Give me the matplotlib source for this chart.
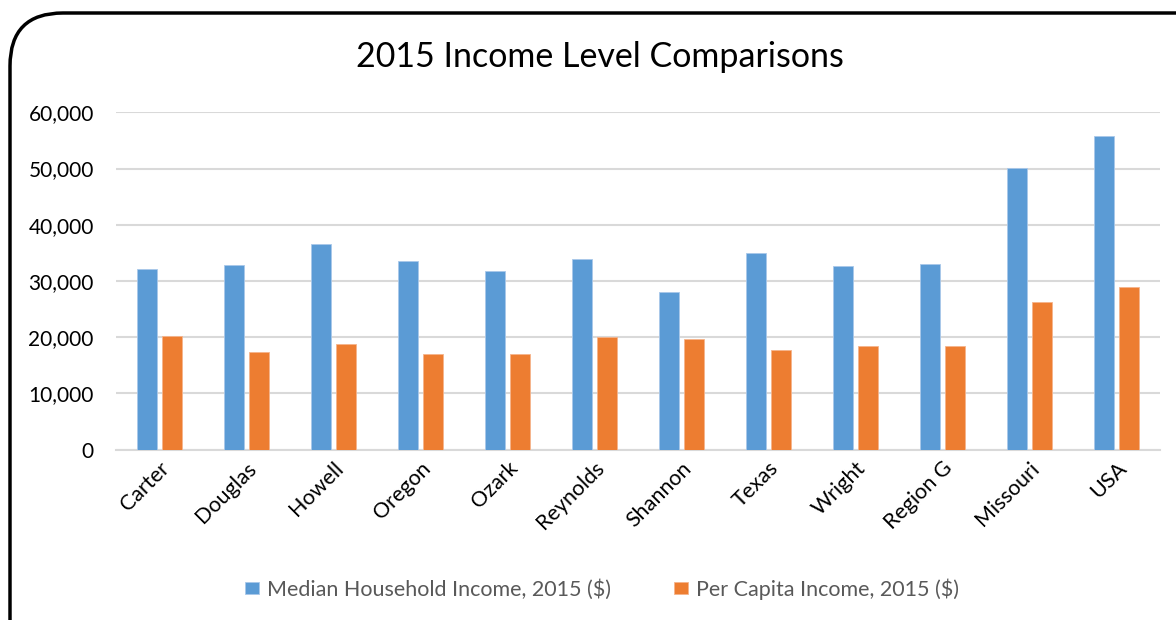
import numpy as np
import matplotlib.pyplot as plt
from matplotlib.patches import FancyBboxPatch

counties = ["Carter", "Douglas", "Howell", "Oregon", "Ozark", "Reynolds",
            "Shannon", "Texas", "Wright", "Region G", "Missouri", "USA"]
median_household = [32200, 32900, 36600, 33500, 31800, 34000,
                    28100, 34900, 32600, 33000, 50100, 55700]
per_capita = [20200, 17300, 18800, 17100, 17000, 20100,
              19600, 17800, 18500, 18500, 26200, 28900]
y_ticks = [0, 10000, 20000, 30000, 40000, 50000, 60000]

blue = "#5b9bd5"
orange = "#ed7d31"
plt.rcParams["font.family"] = ["Lato", "DejaVu Sans"]

fig = plt.figure(figsize=(11.76, 6.2), dpi=100)

# rounded chart frame, cut off at right and bottom like the source image
frame = FancyBboxPatch((10 / 1176, -0.1), 1.2, 1.1 - 13 / 620,
                       boxstyle="round,pad=0,rounding_size=0.045",
                       transform=fig.transFigure, fill=False,
                       edgecolor="black", linewidth=2.5, mutation_aspect=1176 / 620)
fig.patches.append(frame)

ax = fig.add_axes([116 / 1176, 1 - 449.7 / 620, 1044 / 1176, (449.7 - 112.3) / 620])
x = np.arange(len(counties))
w = 0.226
off = 0.146
ax.bar(x - off, median_household, w, color=blue, edgecolor="#a9c8ea", linewidth=0.6,
       label="Median Household Income, 2015 ($)", zorder=3)
ax.bar(x + off, per_capita, w, color=orange, edgecolor="#f6b48c", linewidth=0.6,
       label="Per Capita Income, 2015 ($)", zorder=3)

ax.set_xlim(-0.5, len(counties) - 0.5)
ax.set_ylim(0, 60000)
ax.set_yticks(y_ticks)
ax.set_yticklabels([f"{v:,}" for v in y_ticks], fontsize=15)
ax.set_xticks(x)
ax.set_xticklabels(counties, rotation=45, ha="right", rotation_mode="anchor", fontsize=15.5)
ax.tick_params(axis="both", length=0, colors="black")
ax.tick_params(axis="y", pad=16)
ax.tick_params(axis="x", pad=6)
ax.grid(axis="y", color="#d9d9d9", linewidth=1.5, zorder=0)
for s in ["top", "right", "left"]:
    ax.spines[s].set_visible(False)
ax.spines["bottom"].set_color("#d9d9d9")
ax.spines["bottom"].set_linewidth(1.5)

fig.text(600 / 1176, 1 - 57 / 620, "2015 Income Level Comparisons",
         ha="center", va="center", fontsize=24.5)

leg = fig.legend(loc="center", bbox_to_anchor=(602 / 1176, 1 - 589 / 620), ncol=2,
                 frameon=False, fontsize=15.5, handlelength=0.65, handleheight=0.5,
                 handletextpad=0.4, columnspacing=2.9)
for t in leg.get_texts():
    t.set_color("#595959")

fig.savefig("out.png", dpi=100)
